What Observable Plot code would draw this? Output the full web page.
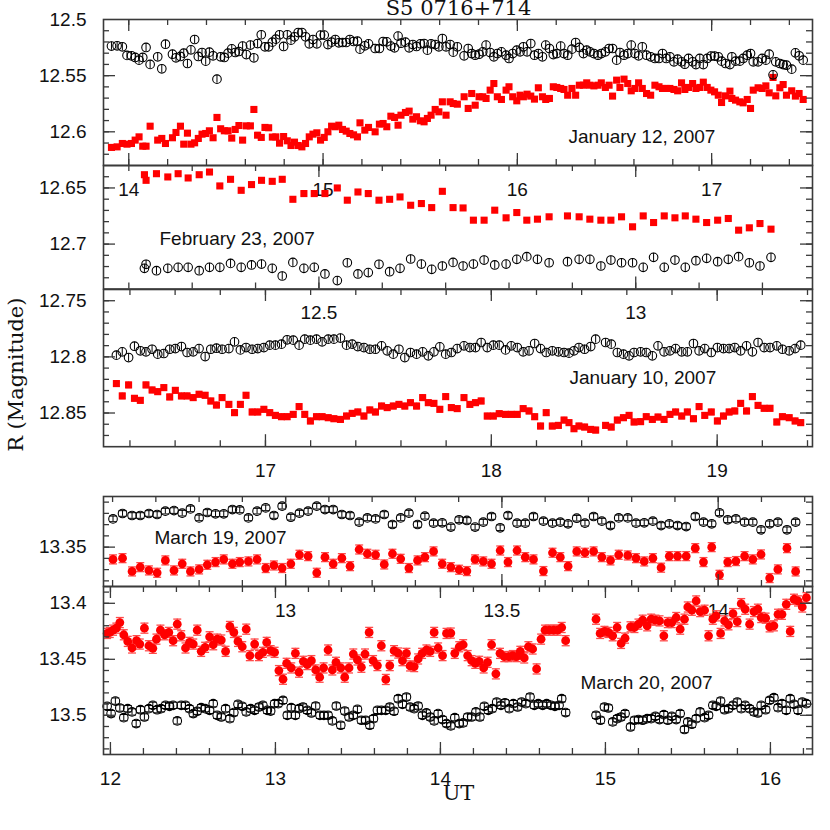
<!DOCTYPE html>
<html><head><meta charset="utf-8">
<script src="https://cdn.jsdelivr.net/npm/d3@7"></script>
<script src="https://cdn.jsdelivr.net/npm/@observablehq/plot@0.6"></script>
<style>
body{margin:0;background:#fff}
#wrap{position:relative;width:830px;height:830px;overflow:hidden;background:#fff}
#wrap svg{position:absolute;left:0}
</style></head><body><div id="wrap"></div>
<script>
// ---------------- DATA (UT hours, R magnitudes) ----------------
// Panel 1: January 12, 2007
const jan12_t = [13.911,13.940,13.967,13.991,14.014,14.033,14.053,14.072,14.089,14.110,14.149,14.170,14.189,14.225,14.243,14.266,14.283,14.302,14.320,14.339,14.358,14.377,14.396,14.415,14.434,14.454,14.473,14.492,14.511,14.530,14.548,14.567,14.586,14.605,14.626,14.644,14.663,14.682,14.701,14.720,14.739,14.757,14.776,14.797,14.816,14.835,14.853,14.872,14.891,14.910,14.929,14.948,14.968,14.987,15.006,15.025,15.044,15.063,15.081,15.100,15.119,15.138,15.157,15.177,15.190,15.215,15.234,15.268,15.290,15.309,15.328,15.349,15.368,15.386,15.401,15.424,15.443,15.462,15.481,15.501,15.520,15.537,15.556,15.577,15.596,15.614,15.633,15.654,15.670,15.691,
15.726,15.747,15.765,15.783,15.803,15.822,15.839,15.860,15.879,15.897,15.918,15.942,15.957,15.976,15.997,16.014,16.031,16.050,16.069,16.088,16.108,16.129,16.146,16.165,16.185,16.203,16.223,16.240,16.259,16.281,16.300,16.319,16.340,16.357,16.374,16.394,16.415,16.432,16.453,16.472,16.490,16.511,16.528,16.549,16.568,16.586,16.605,16.624,16.643,16.665,16.686,16.708,16.729,16.747,16.766,16.785,16.806,16.825,16.845,16.862,16.881,16.902,16.919,16.939,16.957,16.977,16.996,17.015,17.034,17.051,17.071,17.094,17.104,17.123,17.145,17.162,17.183,17.200,17.214,17.239,17.260,17.279,17.296,17.316,17.330,17.351,17.368,17.385,17.412,17.431,17.450,17.471];
const jan12_comp = [12.5237,12.5234,12.5243,12.532,12.5323,12.5338,12.5362,12.5338,12.5249,12.540,12.5332,12.5439,12.522,12.5309,12.5341,12.5329,12.530,12.5392,12.527,12.5178,12.5329,12.5294,12.5371,12.5291,12.5323,12.5531,12.5332,12.5338,12.530,12.5261,12.5294,12.5285,12.5237,12.5312,12.5228,12.5341,12.5214,12.5136,12.5243,12.5243,12.5202,12.5175,12.5136,12.524,12.5136,12.5184,12.5154,12.5116,12.5116,12.5154,12.5217,12.5178,12.5217,12.5139,12.5139,12.5223,12.5202,12.5178,12.5208,12.5205,12.5205,12.5178,12.5196,12.5193,12.5264,12.5234,12.5217,12.5258,12.5258,12.5196,12.5199,12.5237,12.5252,12.5148,12.5211,12.5202,12.5252,12.5223,12.524,12.5217,12.5214,12.5273,12.5217,12.5223,12.5243,12.5169,12.5243,12.5223,12.5291,12.5243,
12.5323,12.5258,12.5303,12.5318,12.5309,12.5288,12.5228,12.5294,12.5332,12.5303,12.5288,12.5318,12.5347,12.5303,12.5273,12.5288,12.5243,12.5288,12.5214,12.5318,12.5303,12.5332,12.5228,12.5258,12.5312,12.5303,12.5237,12.5303,12.5318,12.5264,12.5205,12.5249,12.5303,12.5273,12.5288,12.5303,12.5318,12.5303,12.5288,12.5258,12.5258,12.5362,12.5294,12.5318,12.5303,12.5228,12.5303,12.5323,12.5243,12.5318,12.5332,12.5347,12.5347,12.5303,12.5347,12.5332,12.5377,12.5353,12.5377,12.5398,12.5347,12.5377,12.5401,12.5347,12.5401,12.5347,12.5326,12.5326,12.5332,12.5371,12.5392,12.5401,12.5332,12.5371,12.5371,12.5347,12.5318,12.5303,12.5377,12.5377,12.5347,12.5362,12.5309,12.5493,12.5377,12.5392,12.5401,12.5407,12.5442,12.5297,12.5323,12.5362];
const jan12_blazar = [12.6139,12.6134,12.6104,12.611,12.6104,12.6074,12.6045,12.6128,12.6128,12.595,12.6074,12.6059,12.6104,12.6053,12.6006,12.595,12.611,12.6012,12.611,12.6098,12.6059,12.6021,12.6015,12.5991,12.6053,12.5872,12.5973,12.5991,12.5991,12.6056,12.5979,12.5944,12.6074,12.5947,12.5947,12.5801,12.603,12.605,12.5961,12.5964,12.6047,12.6045,12.6101,12.6042,12.608,12.6122,12.6092,12.6122,12.6134,12.6104,12.6045,12.6021,12.6009,12.6074,12.605,12.6,12.595,12.5955,12.5941,12.5979,12.5994,12.6015,12.6027,12.6045,12.592,12.5985,12.5961,12.6,12.5932,12.5926,12.5955,12.5861,12.5872,12.5941,12.5852,12.5828,12.5816,12.5887,12.5866,12.5902,12.5911,12.5881,12.5852,12.5801,12.5822,12.5733,12.5852,12.5733,12.5748,12.5754,
12.5688,12.5792,12.5659,12.5763,12.5688,12.5688,12.5703,12.5629,12.557,12.5688,12.5712,12.5629,12.5599,12.5688,12.5724,12.5674,12.5688,12.5665,12.5682,12.5709,12.5608,12.5688,12.5712,12.5703,12.5599,12.5605,12.5614,12.5623,12.5674,12.5614,12.5674,12.5585,12.5585,12.5564,12.5585,12.5591,12.5585,12.5564,12.5605,12.5585,12.5682,12.554,12.5605,12.5531,12.557,12.5635,12.5614,12.5564,12.5614,12.5659,12.5674,12.5585,12.5599,12.5614,12.5614,12.5614,12.5623,12.5635,12.5564,12.5623,12.5605,12.557,12.5614,12.5605,12.5558,12.5605,12.5629,12.5644,12.5674,12.5739,12.568,12.5638,12.5703,12.5718,12.5733,12.5742,12.5712,12.5792,12.5629,12.5608,12.5614,12.5591,12.5653,12.5516,12.568,12.5608,12.5579,12.5674,12.5635,12.5682,12.5659,12.5712];

// Panel 2: February 23, 2007
const feb23_t = [12.2246,12.2272,12.2436,12.2615,12.2778,12.2936,12.3110,12.3273,12.3436,12.3605,12.3773,12.3936,12.4094,12.4263,12.4421,12.4589,12.4763,12.4926,12.5095,12.5290,12.5448,12.5616,12.5779,12.5948,12.6116,12.6280,12.6448,12.6617,12.6780,12.6948,12.7117,12.7275,12.7438,12.7607,12.7775,12.7954,12.8123,12.8281,12.8449,12.8633,12.8923,12.9107,12.9276,12.9450,12.9608,12.9776,12.9950,13.0118,13.0282,13.0450,13.0619,13.0782,13.0950,13.1119,13.1293,13.1461,13.1624,13.1793,13.1961,13.2135];
const feb23_comp = [12.7216,12.718,12.7237,12.7216,12.7207,12.7207,12.7237,12.7207,12.7207,12.7172,12.7207,12.7186,12.7178,12.7216,12.7284,12.7163,12.7216,12.7207,12.7266,12.7325,12.7166,12.7266,12.7254,12.718,12.7246,12.7216,12.7133,12.7178,12.7225,12.7195,12.7163,12.7195,12.7178,12.7142,12.7186,12.7178,12.7136,12.7112,12.7136,12.7166,12.7157,12.7136,12.7136,12.7195,12.7142,12.7166,12.7166,12.7207,12.7118,12.7207,12.7142,12.7207,12.7148,12.7127,12.7157,12.7136,12.7112,12.7166,12.7195,12.7118];
const feb23_blazar = [12.6382,12.6432,12.6373,12.6402,12.6373,12.6411,12.6382,12.6358,12.6482,12.6423,12.6521,12.647,12.6432,12.6441,12.6423,12.6601,12.655,12.655,12.655,12.65,12.6609,12.6536,12.655,12.6609,12.6601,12.658,12.6654,12.6639,12.6675,12.653,12.6675,12.6678,12.6787,12.6787,12.6698,12.6766,12.6719,12.6787,12.6778,12.6757,12.6749,12.6757,12.6778,12.6787,12.6787,12.6757,12.6846,12.6749,12.6808,12.6749,12.6766,12.6749,12.6778,12.6808,12.6787,12.6772,12.6876,12.6855,12.6817,12.6867];

// Panel 3: January 10, 2007
const jan10_t = [16.340,16.366,16.394,16.420,16.446,16.471,16.498,16.523,16.550,16.576,16.601,16.628,16.653,16.680,16.706,16.733,16.758,16.783,16.808,16.838,16.863,16.889,16.914,16.941,16.966,16.993,17.019,17.044,17.071,17.096,17.123,17.149,17.174,17.199,17.226,17.251,17.278,17.303,17.332,17.359,17.384,17.409,17.436,17.462,17.487,17.514,17.539,17.566,17.591,17.617,17.642,17.669,17.696,17.721,17.746,17.772,17.798,17.823,17.849,
17.879,17.905,17.930,17.955,17.982,18.009,18.035,18.063,18.088,18.115,18.141,18.167,18.192,18.218,18.243,18.270,18.297,18.322,18.344,18.366,18.388,18.413,18.440,18.462,18.506,18.531,18.558,18.585,18.610,18.632,18.661,18.686,18.713,18.738,18.765,18.791,18.816,18.843,18.868,18.895,18.920,18.945,18.974,19.001,19.028,19.053,19.078,19.104,19.130,19.156,19.181,19.208,19.234,19.264,19.289,19.319,19.345,19.370];
const jan10_comp = [12.7985,12.7955,12.8006,12.7905,12.7946,12.7955,12.7932,12.7976,12.797,12.7932,12.7926,12.7908,12.7961,12.7955,12.7926,12.7997,12.7932,12.7923,12.7932,12.7926,12.7866,12.7938,12.7917,12.7932,12.7926,12.7917,12.7896,12.7896,12.7887,12.7848,12.7851,12.7896,12.7842,12.7851,12.7842,12.7866,12.7842,12.7842,12.7833,12.7896,12.7887,12.7908,12.7917,12.7932,12.7932,12.7902,12.7946,12.7976,12.7932,12.8006,12.7961,12.7976,12.7955,12.7991,12.7955,12.7911,12.7976,12.7961,12.7926,
12.7902,12.7917,12.7917,12.7872,12.7917,12.7896,12.7896,12.7938,12.7902,12.7917,12.7955,12.7946,12.7881,12.7926,12.7961,12.7946,12.7955,12.7961,12.7967,12.7946,12.7917,12.7932,12.7908,12.7842,12.7872,12.7887,12.7961,12.7976,12.7991,12.7961,12.7955,12.7961,12.7991,12.7902,12.7955,12.7946,12.7926,12.7955,12.7955,12.7881,12.7946,12.7926,12.7961,12.7917,12.7926,12.7926,12.7917,12.7946,12.7902,12.7955,12.7872,12.7917,12.7917,12.7902,12.7932,12.7946,12.7926,12.7896];
const jan10_blazar = [12.8238,12.8348,12.825,12.8369,12.8387,12.825,12.8295,12.831,12.8274,12.8357,12.8298,12.8348,12.8348,12.8363,12.8333,12.8342,12.8393,12.8429,12.8363,12.8423,12.8497,12.8423,12.8342,12.8491,12.8491,12.8467,12.8497,12.8521,12.8533,12.8533,12.8512,12.8443,12.8512,12.8571,12.8533,12.8533,12.8542,12.8551,12.8557,12.8527,12.8503,12.8491,12.8527,12.8473,12.8491,12.8438,12.8452,12.8438,12.8423,12.8438,12.8408,12.8438,12.8363,12.8408,12.8414,12.8467,12.8354,12.8452,12.8461,
12.8363,12.8423,12.8408,12.8393,12.8527,12.8527,12.8506,12.8512,12.8512,12.8512,12.8461,12.8482,12.8533,12.8616,12.8497,12.8616,12.861,12.8563,12.8586,12.864,12.8616,12.8625,12.8646,12.8652,12.861,12.8625,12.8563,12.8542,12.8521,12.858,12.8577,12.8533,12.8557,12.8536,12.8557,12.8512,12.8491,12.8527,12.8491,12.8551,12.8443,12.8521,12.8491,12.8571,12.8527,12.8491,12.8482,12.8414,12.8482,12.8354,12.8432,12.8458,12.8458,12.858,12.8533,12.8542,12.8571,12.8586];

// Panel 4: March 19, 2007
const mar19_t = [12.601,12.623,12.645,12.664,12.684,12.703,12.722,12.742,12.761,12.780,12.800,12.819,12.838,12.857,12.877,12.894,12.914,12.934,12.954,12.973,12.992,13.012,13.032,13.052,13.072,13.091,13.110,13.130,13.149,13.170,13.189,13.208,13.228,13.247,13.266,
13.285,13.305,13.322,13.342,13.362,13.382,13.401,13.419,13.438,13.457,13.476,13.496,13.514,13.535,13.554,13.573,13.596,13.617,13.635,13.653,13.673,13.692,13.712,13.731,13.751,13.770,13.791,13.810,13.829,13.849,13.868,13.887,13.906,13.926,13.947,13.966,13.985,14.003,14.022,14.041,14.061,14.080,14.099,14.119,14.138,14.159,14.179];
const mar19_comp = [13.3249,13.3201,13.3219,13.3219,13.3201,13.321,13.318,13.3175,13.3198,13.316,13.324,13.3192,13.3204,13.3204,13.3166,13.3169,13.324,13.318,13.3151,13.3219,13.3136,13.3234,13.3198,13.318,13.3136,13.3166,13.3166,13.321,13.3219,13.3278,13.324,13.3249,13.321,13.3299,13.324,
13.3198,13.3299,13.3225,13.3287,13.3284,13.3322,13.3257,13.3263,13.3322,13.3278,13.3228,13.3328,13.3219,13.3287,13.3287,13.3228,13.3269,13.3287,13.3278,13.3293,13.3243,13.3287,13.3228,13.3269,13.3308,13.324,13.324,13.3287,13.3284,13.3269,13.3308,13.3293,13.3308,13.3317,13.3228,13.3278,13.3293,13.3195,13.3257,13.3249,13.3278,13.3278,13.3346,13.3293,13.3278,13.3346,13.3278];
const mar19_blazar = [13.3609,13.3598,13.3716,13.3678,13.3707,13.3728,13.3618,13.3707,13.3648,13.3716,13.3698,13.3657,13.3633,13.3609,13.3648,13.3633,13.3627,13.3609,13.3686,13.3663,13.3686,13.3648,13.3568,13.358,13.3728,13.3589,13.3648,13.3598,13.3669,13.3521,13.3559,13.3568,13.3654,13.3559,13.3604,
13.3686,13.3618,13.3589,13.3538,13.3648,13.3678,13.3701,13.3713,13.3609,13.3627,13.3648,13.353,13.3633,13.353,13.3589,13.3609,13.3713,13.355,13.3589,13.3669,13.3538,13.355,13.3538,13.3589,13.3618,13.3568,13.3574,13.3598,13.3627,13.3598,13.3683,13.358,13.358,13.358,13.3509,13.3633,13.35,13.3746,13.3633,13.3624,13.358,13.3609,13.3565,13.3775,13.3698,13.3509,13.3716];

// Panel 5: March 20, 2007
const mar20_comp_t = [11.980,12.004,12.030,12.057,12.081,12.105,12.131,12.156,12.182,12.206,12.233,12.257,12.283,12.307,12.334,12.358,12.380,12.405,12.429,12.455,12.479,12.502,12.526,12.550,12.574,12.601,12.623,12.647,12.672,12.698,12.724,12.748,12.773,12.799,12.823,12.850,12.874,12.900,12.924,12.951,12.971,12.995,13.017,13.046,13.072,13.096,13.121,13.143,13.167,13.193,13.218,13.244,13.270,13.294,13.319,13.345,13.369,13.396,13.420,13.446,13.472,13.497,13.521,13.547,13.572,13.594,13.618,13.642,13.669,13.693,13.719,13.744,13.770,13.794,13.816,13.841,13.865,13.891,13.915,13.938,13.962,13.986,14.013,14.037,14.063,14.087,14.114,
14.138,14.165,14.189,14.215,14.239,14.266,14.290,14.314,14.341,14.367,14.391,14.417,14.442,14.468,14.492,14.518,14.543,14.569,14.593,14.620,14.644,14.670,14.694,14.719,14.735,14.759,14.943,14.970,14.994,15.018,15.044,15.071,15.095,15.119,15.152,15.176,15.200,15.226,15.253,15.277,15.303,15.328,15.354,15.378,15.402,15.429,15.453,15.479,15.499,15.524,15.550,15.574,15.601,15.625,15.651,15.671,15.698,15.722,15.746,15.773,15.799,15.823,15.847,15.874,15.900,15.924,15.944,15.971,15.995,16.021,16.046,16.070,16.096,16.120,16.143,16.167,16.193,16.218];
const mar20_comp = [13.492,13.4985,13.4873,13.4935,13.5021,13.4941,13.497,13.5074,13.495,13.5015,13.4941,13.4911,13.495,13.4941,13.4911,13.492,13.4911,13.505,13.4911,13.4911,13.4941,13.4985,13.4964,13.4932,13.4941,13.4956,13.4896,13.5,13.5015,13.4941,13.503,13.4976,13.4902,13.492,13.497,13.4941,13.4956,13.4926,13.4911,13.4956,13.4962,13.4896,13.4896,13.4867,13.5,13.4932,13.5,13.4941,13.4926,13.4956,13.4979,13.4917,13.5,13.5,13.5,13.505,13.4917,13.5089,13.4962,13.5015,13.5,13.4947,13.5044,13.5044,13.5089,13.503,13.4956,13.4956,13.4956,13.4926,13.4964,13.4852,13.4902,13.4837,13.4926,13.4941,13.4917,13.5,13.4979,13.5015,13.505,13.4985,13.5038,13.5074,13.5095,13.5021,13.5074,
13.5068,13.5015,13.5015,13.497,13.5015,13.492,13.4956,13.4941,13.4882,13.4911,13.4888,13.4941,13.4896,13.4926,13.4882,13.4896,13.4837,13.4911,13.4896,13.4911,13.4896,13.4911,13.492,13.4911,13.4852,13.4976,13.5,13.5044,13.4926,13.4935,13.5059,13.503,13.5015,13.4985,13.5104,13.5044,13.5038,13.5044,13.503,13.503,13.5009,13.5038,13.4994,13.5044,13.5009,13.5038,13.4985,13.5127,13.5059,13.508,13.503,13.497,13.5021,13.5,13.4911,13.492,13.4873,13.495,13.4941,13.4911,13.4882,13.4941,13.4911,13.4941,13.497,13.4979,13.4911,13.495,13.4867,13.4843,13.4932,13.4896,13.4956,13.4852,13.4902,13.4956,13.4882,13.4896];
const mar20_blazar_t = [11.980,11.996,12.016,12.036,12.057,12.081,12.105,12.131,12.158,12.178,12.206,12.233,12.257,12.279,12.303,12.328,12.354,12.380,12.405,12.429,12.455,12.479,12.502,12.526,12.550,12.574,12.601,12.623,12.647,12.672,12.698,12.724,12.748,12.773,12.799,12.823,12.845,12.874,12.900,12.924,12.947,12.971,12.995,13.021,13.046,13.068,13.096,13.121,13.143,13.169,13.193,13.218,13.244,13.268,13.292,13.319,13.345,13.367,13.396,13.420,13.446,13.472,13.497,13.521,13.543,13.568,13.592,13.618,13.642,13.669,13.693,13.719,13.744,13.770,13.794,13.816,13.841,13.865,13.889,13.915,13.938,13.962,13.986,14.013,14.037,14.063,14.087,14.114,
14.138,14.165,14.189,14.211,14.235,14.262,14.286,14.310,14.336,14.361,14.387,14.413,14.438,14.462,14.484,14.508,14.533,14.559,14.583,14.610,14.634,14.660,14.686,14.711,14.735,14.759,14.943,14.968,14.994,15.018,15.044,15.071,15.095,15.119,15.152,15.176,15.200,15.226,15.253,15.277,15.303,15.328,15.354,15.378,15.402,15.429,15.453,15.479,15.499,15.524,15.550,15.574,15.601,15.625,15.651,15.671,15.698,15.722,15.746,15.773,15.799,15.823,15.847,15.874,15.900,15.924,15.944,15.971,15.995,16.021,16.046,16.070,16.096,16.120,16.143,16.167,16.193,16.218];
const mar20_blazar = [13.4269,13.426,13.424,13.4222,13.4172,13.4281,13.434,13.4399,13.4334,13.4364,13.4222,13.4379,13.4402,13.432,13.424,13.4281,13.426,13.4334,13.4186,13.429,13.4399,13.4349,13.4364,13.424,13.4429,13.4393,13.4299,13.437,13.432,13.4328,13.4429,13.4207,13.426,13.434,13.4388,13.4231,13.4467,13.4364,13.4467,13.4438,13.4349,13.4423,13.4438,13.4601,13.4678,13.4536,13.4577,13.4447,13.4615,13.4518,13.4547,13.4512,13.4595,13.466,13.4577,13.4417,13.4595,13.4527,13.4577,13.466,13.4577,13.4453,13.4506,13.4571,13.4453,13.426,13.4512,13.4556,13.4379,13.468,13.4556,13.4423,13.4444,13.4512,13.4447,13.4559,13.4565,13.4497,13.4447,13.4417,13.4429,13.426,13.4399,13.4467,13.4269,13.4266,13.4447,13.4388,
13.437,13.4467,13.4512,13.4536,13.4518,13.4577,13.4527,13.437,13.463,13.4447,13.4476,13.4476,13.4467,13.4476,13.4429,13.4488,13.4388,13.4408,13.4586,13.432,13.424,13.424,13.424,13.424,13.4216,13.4334,13.4142,13.4269,13.4251,13.426,13.429,13.4216,13.4358,13.4311,13.421,13.4216,13.4186,13.4151,13.4201,13.4142,13.4151,13.4157,13.429,13.4172,13.4172,13.4127,13.4231,13.4142,13.4033,13.4062,13.3979,13.4074,13.4062,13.429,13.4142,13.4112,13.4269,13.4157,13.4192,13.4092,13.4163,13.4003,13.4053,13.4186,13.4074,13.4053,13.4127,13.4133,13.421,13.4201,13.4098,13.4098,13.4009,13.4251,13.3964,13.3979,13.4033,13.395];

// Axis tick labels
const jan12_xticks = [14, 15, 16, 17];
const feb23_xticks = [12.5, 13];
const jan10_xticks = [17, 18, 19];
const mar19_xticks = [13, 13.5, 14];
const mar20_xticks = [12, 13, 14, 15, 16];
const jan12_yticks = [12.5, 12.55, 12.6];
const feb23_yticks = [12.65, 12.7];
const jan10_yticks = [12.75, 12.8, 12.85];
const mar19_yticks = [13.35];
const mar20_yticks = [13.4, 13.45, 13.5];

// ---------------- DRAWING ----------------
const AX = "#3a3a3a";
const SANS = "Liberation Sans, Arial, Helvetica, sans-serif";
const SERIF = "DejaVu Serif, serif";
const FRAME_L = 103, FRAME_R = 812, INNER_W = FRAME_R - FRAME_L;
const rng = (a, b, s) => d3.range(Math.round(a / s), Math.round(b / s) + 1).map(k => +(k * s).toFixed(4));
const capSym = hw => ({draw(ctx) { ctx.moveTo(-hw, 0); ctx.lineTo(hw, 0); }});

function panel(c) {
  const mt = 10, mb = 48, H = c.h;
  const [x0, x1] = c.xDomain, [y0, y1] = c.yDomain;
  const inX = v => v > x0 + 1e-6 && v < x1 - 1e-6, inY = v => v > y0 + 1e-6 && v < y1 - 1e-6;
  const marks = [];
  for (const s of c.series) {
    const data = s.t.map((t, i) => ({t, m: s.m[i]})).filter(d => d.m != null);
    if (s.err) {
      marks.push(Plot.ruleX(data, {x: "t", y1: d => d.m - s.err, y2: d => d.m + s.err, stroke: s.bar, strokeWidth: s.barW || 1}));
      if (s.cap) for (const sg of [-1, 1])
        marks.push(Plot.dot(data, {x: "t", y: d => d.m + sg * s.err, symbol: capSym(s.cap), r: 3, fill: "none", stroke: s.bar, strokeWidth: s.barW || 1}));
    }
    marks.push(Plot.dot(data, {x: "t", y: "m", symbol: s.symbol, r: s.r, fill: s.fill, stroke: s.stroke, strokeWidth: s.sw}));
  }
  const xMin = c.xMinor.filter(inX), xMaj = c.xMajor.filter(inX);
  const yMin = c.yMinor.filter(inY), yMaj = c.yMajor.filter(inY);
  const tk = {stroke: AX, strokeWidth: 1.3};
  marks.push(
    Plot.tickX(xMin, {x: d => d, insetTop: H - 6, ...tk}),
    Plot.tickX(xMin, {x: d => d, insetBottom: H - 6, ...tk}),
    Plot.tickX(xMaj, {x: d => d, insetTop: H - 12, ...tk}),
    Plot.tickX(xMaj, {x: d => d, insetBottom: H - 12, ...tk}),
    Plot.tickY(yMin, {y: d => d, insetRight: INNER_W - 6, ...tk}),
    Plot.tickY(yMin, {y: d => d, insetLeft: INNER_W - 6, ...tk}),
    Plot.tickY(yMaj, {y: d => d, insetRight: INNER_W - 12, ...tk}),
    Plot.tickY(yMaj, {y: d => d, insetLeft: INNER_W - 12, ...tk}),
    Plot.frame({stroke: AX, strokeWidth: 1.6})
  );
  for (const L of c.labels) {
    marks.push(Plot.text([L.text], {text: d => d, frameAnchor: L.anchor, dx: L.dx, dy: L.dy,
      textAnchor: L.textAnchor || "start", lineAnchor: "middle", rotate: L.rotate || 0,
      fontSize: L.size || 19, fontFamily: L.font || SANS, fill: "#111"}));
  }
  const svg = Plot.plot({
    width: 830, height: H + mt + mb,
    marginLeft: FRAME_L, marginRight: 830 - FRAME_R, marginTop: mt, marginBottom: mb,
    x: {domain: c.xDomain, ticks: c.xLabels, tickSize: 0, tickPadding: 16.5, label: null, tickFormat: d => String(d)},
    y: {domain: c.yDomain, reverse: true, ticks: c.yLabels, tickSize: 0, tickPadding: 17, label: null, tickFormat: d => String(d)},
    style: {fontFamily: SANS, fontSize: "19px", color: "#111", background: "transparent", overflow: "visible"},
    marks
  });
  svg.style.top = (c.top - mt) + "px";
  return svg;
}

const openBlack = (t, m, err) => ({t, m, symbol: "circle", r: 4.3, fill: "none", stroke: "#000", sw: 1.1, err, bar: "#000", barW: 1});
const redSquare = (t, m, err, cap) => ({t, m, symbol: "square", r: 4, fill: "#ff0000", stroke: "none", sw: 0, err, cap, bar: "#ff2020", barW: 1});
const redDot = (t, m, err, cap) => ({t, m, symbol: "circle", r: 4.4, fill: "#ff0000", stroke: "none", sw: 0, err, cap, bar: "#ff4a4a", barW: 1.3});

const wrap = document.getElementById("wrap");
const panels = [
  {top: 19.3, h: 146, xDomain: [13.870, 17.519], yDomain: [12.5, 12.63],
   xMinor: rng(13.8, 17.6, 0.2), xMajor: [14, 15, 16, 17], yMinor: rng(12.5, 12.63, 0.01), yMajor: rng(12.5, 12.6, 0.05),
   xLabels: jan12_xticks, yLabels: jan12_yticks,
   series: [redSquare(jan12_t, jan12_blazar, 0.0015, 3), openBlack(jan12_t, jan12_comp, 0.0036)],
   labels: [{text: "January 12, 2007", anchor: "top-left", dx: 465, dy: 117.8},
            {text: "S5 0716+714", anchor: "top", dx: 0.5, dy: -11.5, textAnchor: "middle", font: SERIF, size: 21}]},
  {top: 165.3, h: 123.5, xDomain: [12.160, 13.279], yDomain: [12.63, 12.74],
   xMinor: rng(12.1, 13.3, 0.1), xMajor: [12.5, 13], yMinor: rng(12.63, 12.74, 0.01), yMajor: rng(12.65, 12.7, 0.05),
   xLabels: feb23_xticks, yLabels: feb23_yticks,
   series: [redSquare(feb23_t, feb23_blazar, 0.0015, 3), openBlack(feb23_t, feb23_comp, 0.0036)],
   labels: [{text: "February 23, 2007", anchor: "top-left", dx: 56, dy: 73.1}]},
  {top: 288.8, h: 157.2, xDomain: [16.283, 19.422], yDomain: [12.74, 12.88],
   xMinor: rng(16.2, 19.4, 0.2), xMajor: [17, 18, 19], yMinor: rng(12.74, 12.88, 0.01), yMajor: rng(12.75, 12.85, 0.05),
   xLabels: jan10_xticks, yLabels: jan10_yticks,
   series: [redSquare(jan10_t, jan10_blazar, 0.0025, 3), openBlack(jan10_t, jan10_comp, 0.0036)],
   labels: [{text: "January 10, 2007", anchor: "top-left", dx: 466, dy: 88.9},
            {text: "R (Magnitude)", anchor: "left", dx: -87, dy: 6.6, textAnchor: "middle", rotate: -90, font: SERIF, size: 21}]},
  {top: 495.7, h: 90, xDomain: [12.579, 14.218], yDomain: [13.305, 13.385],
   xMinor: rng(12.5, 14.3, 0.1), xMajor: [13, 13.5, 14], yMinor: rng(13.3, 13.39, 0.01), yMajor: [13.35],
   xLabels: mar19_xticks, yLabels: mar19_yticks,
   series: [redDot(mar19_t, mar19_blazar, 0.004, 4), openBlack(mar19_t, mar19_comp, 0.0025)],
   labels: [{text: "March 19, 2007", anchor: "top-left", dx: 51, dy: 41.7}]},
  {top: 585.7, h: 168, xDomain: [11.958, 16.255], yDomain: [13.385, 13.535],
   xMinor: rng(11.8, 16.4, 0.2), xMajor: [12, 13, 14, 15, 16], yMinor: rng(13.38, 13.54, 0.01), yMajor: rng(13.4, 13.5, 0.05),
   xLabels: mar20_xticks, yLabels: mar20_yticks,
   series: [redDot(mar20_blazar_t, mar20_blazar, 0.0045, 4), openBlack(mar20_comp_t, mar20_comp, 0.0028)],
   labels: [{text: "March 20, 2007", anchor: "top-left", dx: 477, dy: 96.3},
            {text: "UT", anchor: "bottom", dx: 0.5, dy: 38.6, textAnchor: "middle", font: SERIF, size: 21}]}
];
for (const p of panels) {
  // give caps to black symbols only in the lower panels
  if (p.top > 450) p.series[1].cap = 4;
  wrap.appendChild(panel(p));
}
</script></body></html>
